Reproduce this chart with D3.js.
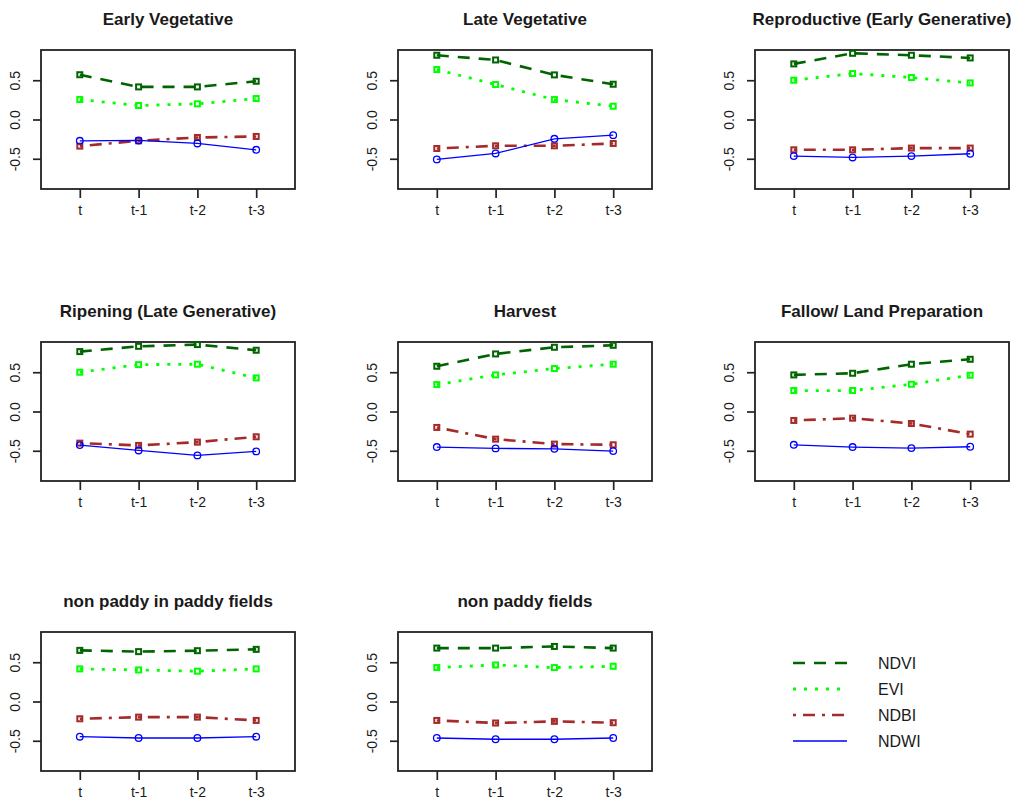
<!DOCTYPE html>
<html>
<head>
<meta charset="utf-8">
<script src="https://cdnjs.cloudflare.com/ajax/libs/d3/7.8.5/d3.min.js"></script>
<style>
  body { margin: 0; background: #fff; }
  #chart { width: 1016px; height: 806px; }
  text { font-family: Arial, "Liberation Sans", sans-serif; fill: #1a1a1a; }
</style>
</head>
<body>
<div id="chart"></div>
<script>
// Data
var titles = ["Early Vegetative", "Late Vegetative", "Reproductive (Early Generative)",
    "Ripening (Late Generative)", "Harvest", "Fallow/ Land Preparation",
    "non paddy in paddy fields", "non paddy fields"];
var xLabels = ["t", "t-1", "t-2", "t-3"];
var seriesNames = ["NDVI", "EVI", "NDBI", "NDWI"];

var ndvi = [
    [0.57, 0.415, 0.415, 0.487],
    [0.818, 0.758, 0.568, 0.449],
    [0.708, 0.843, 0.818, 0.784],
    [0.763, 0.83, 0.852, 0.78],
    [0.576, 0.733, 0.818, 0.843],
    [0.466, 0.487, 0.602, 0.665],
    [0.651, 0.635, 0.647, 0.664],
    [0.68, 0.68, 0.701, 0.68]
];
var evi = [
    [0.254, 0.178, 0.2, 0.267],
    [0.636, 0.445, 0.254, 0.169],
    [0.5, 0.585, 0.534, 0.466],
    [0.5, 0.597, 0.602, 0.428],
    [0.343, 0.466, 0.547, 0.602],
    [0.267, 0.267, 0.347, 0.462],
    [0.415, 0.402, 0.386, 0.415],
    [0.432, 0.465, 0.432, 0.448]
];
var ndbi = [
    [-0.339, -0.271, -0.229, -0.216],
    [-0.369, -0.335, -0.335, -0.305],
    [-0.386, -0.386, -0.364, -0.364],
    [-0.403, -0.432, -0.39, -0.322],
    [-0.203, -0.352, -0.415, -0.424],
    [-0.114, -0.085, -0.153, -0.288],
    [-0.22, -0.199, -0.199, -0.241],
    [-0.241, -0.274, -0.253, -0.27]
];
var ndwi = [
    [-0.271, -0.267, -0.305, -0.386],
    [-0.508, -0.432, -0.246, -0.199],
    [-0.466, -0.483, -0.466, -0.436],
    [-0.428, -0.496, -0.559, -0.508],
    [-0.453, -0.47, -0.475, -0.504],
    [-0.424, -0.453, -0.466, -0.449],
    [-0.448, -0.465, -0.465, -0.448],
    [-0.465, -0.481, -0.481, -0.465]
];
var seriesData = [ndvi, evi, ndbi, ndwi];

// Styles
var colors = ["#006400", "#00ff00", "#a52a2a", "#0000ff"];
var dashes = ["12,9", "3,8", "3,7,12,7", null];
var widths = [2.6, 2.8, 2.6, 1.3];

// Layout
var colLeft = [41, 398, 755];
var rowTop = [50, 342, 632];
var boxW = 254, boxH = 139;

var svg = d3.select("#chart")
    .append("svg")
    .attr("width", 1016)
    .attr("height", 806);

var x = d3.scaleLinear().domain([0.34, 4.66]).range([0, boxW]);
var y = d3.scaleLinear().domain([-0.885, 0.885]).range([boxH, 0]);

var line = d3.line()
    .x(function (d, i) { return x(i + 1); })
    .y(function (d) { return y(d); });

titles.forEach(function (title, p) {
    var g = svg.append("g")
        .attr("transform", "translate(" + colLeft[p % 3] + "," + rowTop[Math.floor(p / 3)] + ")");

    g.append("text")
        .attr("x", boxW / 2)
        .attr("y", -25)
        .attr("text-anchor", "middle")
        .style("font-size", "17px")
        .style("font-weight", "bold")
        .text(title);

    // axes
    var yAxis = g.append("g")
        .call(d3.axisLeft(y).tickValues([-0.5, 0, 0.5]).tickSize(8)
            .tickFormat(function (d) { return d.toFixed(1); }));
    yAxis.select(".domain").remove();
    yAxis.selectAll("line").attr("stroke", "#222").attr("stroke-width", 1.7);
    yAxis.selectAll("text")
        .attr("transform", "rotate(-90)")
        .attr("x", 0)
        .attr("y", -26)
        .attr("dy", "0.35em")
        .attr("text-anchor", "middle")
        .style("font-size", "14px")
        .style("font-family", "Arial, 'Liberation Sans', sans-serif")
        .attr("fill", "#1a1a1a");

    var xAxis = g.append("g")
        .attr("transform", "translate(0," + boxH + ")")
        .call(d3.axisBottom(x).tickValues([1, 2, 3, 4]).tickSize(9)
            .tickFormat(function (d, i) { return xLabels[i]; }));
    xAxis.select(".domain").remove();
    xAxis.selectAll("line").attr("stroke", "#222").attr("stroke-width", 1.7);
    xAxis.selectAll("text")
        .attr("y", 21)
        .attr("dy", "0.35em")
        .style("font-size", "14px")
        .style("font-family", "Arial, 'Liberation Sans', sans-serif")
        .attr("fill", "#1a1a1a");

    g.append("rect")
        .attr("width", boxW)
        .attr("height", boxH)
        .attr("fill", "none")
        .attr("stroke", "#222")
        .attr("stroke-width", 1.8);

    // series
    seriesData.forEach(function (s, k) {
        var vals = s[p];
        g.append("path")
            .datum(vals)
            .attr("d", line)
            .attr("fill", "none")
            .attr("stroke", colors[k])
            .attr("stroke-width", widths[k])
            .attr("stroke-dasharray", dashes[k]);

        if (k < 3) {
            g.selectAll(".pt" + k)
                .data(vals).enter()
                .append("rect")
                .attr("x", function (d, i) { return x(i + 1) - 2.5; })
                .attr("y", function (d) { return y(d) - 2.5; })
                .attr("width", 5)
                .attr("height", 5)
                .attr("fill", "none")
                .attr("stroke", colors[k])
                .attr("stroke-width", 2);
        } else {
            g.selectAll(".pt" + k)
                .data(vals).enter()
                .append("circle")
                .attr("cx", function (d, i) { return x(i + 1); })
                .attr("cy", function (d) { return y(d); })
                .attr("r", 3.3)
                .attr("fill", "none")
                .attr("stroke", colors[k])
                .attr("stroke-width", 1.3);
        }
    });
});

// Legend
var legend = svg.append("g").attr("transform", "translate(793,663)");
seriesNames.forEach(function (name, k) {
    legend.append("line")
        .attr("x1", 0).attr("x2", 54)
        .attr("y1", k * 26).attr("y2", k * 26)
        .attr("stroke", colors[k])
        .attr("stroke-width", widths[k])
        .attr("stroke-dasharray", dashes[k]);
    legend.append("text")
        .attr("x", 85)
        .attr("y", k * 26)
        .attr("dy", "0.35em")
        .style("font-size", "16px")
        .text(name);
});
</script>
</body>
</html>
